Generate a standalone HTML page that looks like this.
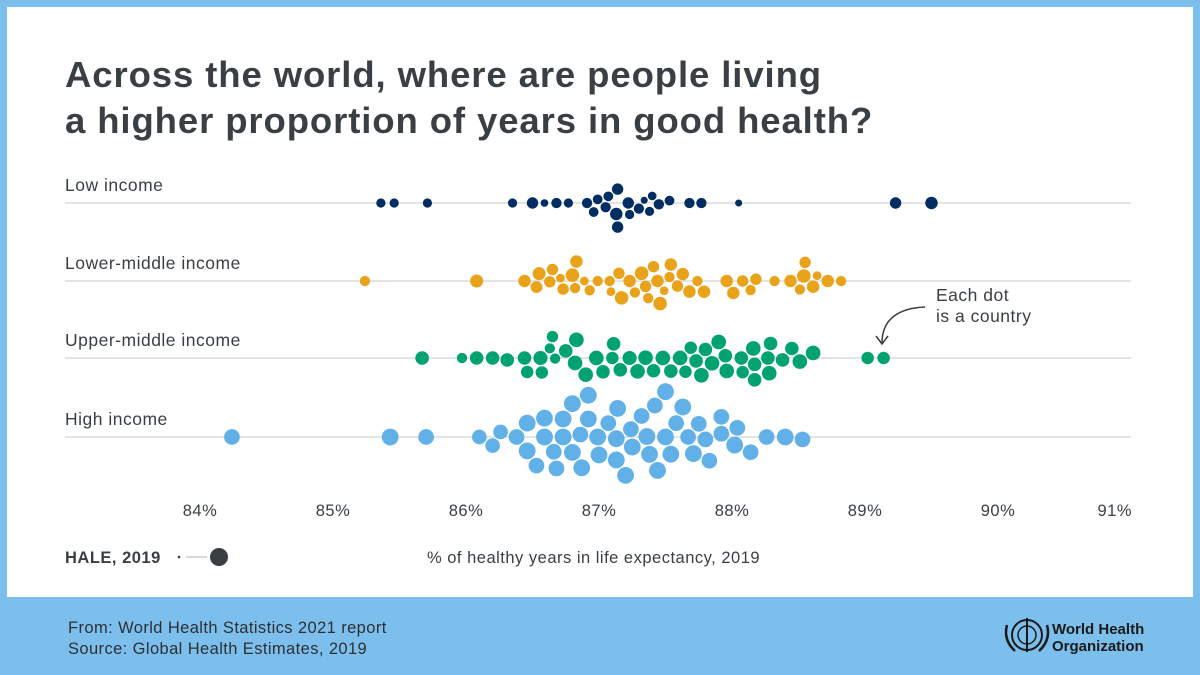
<!DOCTYPE html>
<html><head><meta charset="utf-8">
<style>
body{margin:0;width:1200px;height:675px;background:#7dbfec;font-family:"Liberation Sans","DejaVu Sans",sans-serif;overflow:hidden;position:relative}
#card{position:absolute;left:7px;top:7px;width:1186px;height:590px;background:#fff}
h1{position:absolute;left:65px;top:52px;margin:0;font-size:36.5px;letter-spacing:0.9px;line-height:46px;font-weight:bold;color:#3a3f44}
.foot{position:absolute;left:68px;top:618px;font-size:16.5px;letter-spacing:0.4px;line-height:21px;color:#2b3035}
svg{position:absolute;left:0;top:0}
svg text{letter-spacing:0.5px}
</style></head><body>
<div id="card"></div>
<h1>Across the world, where are people living<br>a higher proportion of years in good health?</h1>
<div class="foot">From: World Health Statistics 2021 report<br>Source: Global Health Estimates, 2019</div>
<svg id="chart" width="1200" height="675"></svg>
<script>
const groups = ["Low income","Lower-middle income","Upper-middle income","High income"];
const colors = ["#002d62","#e9a31b","#00a270","#61b1e8"];
const ticks = [84,85,86,87,88,89,90,91];
const lowVals = [85.36,85.46,85.71,86.35,86.50,86.59,86.68,86.77,86.91,86.96,86.99,87.05,87.07,87.13,87.14,87.14,87.22,87.23,87.30,87.34,87.38,87.40,87.45,87.53,87.68,87.77,88.05,89.23,89.50];
const lowHale = [56,56,56,56,60,53,58,56,58,57,57,58,57,62,60,60,60,56,58,52,56,55,58,57,58,58,52,60,62];
const lmVals = [85.24,86.08,86.44,86.53,86.55,86.63,86.65,86.71,86.73,86.80,86.82,86.83,86.89,86.93,86.99,87.08,87.09,87.15,87.17,87.23,87.27,87.32,87.35,87.37,87.41,87.44,87.46,87.49,87.53,87.54,87.59,87.63,87.68,87.74,87.79,87.96,88.01,88.08,88.14,88.18,88.32,88.44,88.51,88.54,88.55,88.61,88.64,88.72,88.82];
const lmHale = [58,63,62,61,63,60,60,55,60,64,58,62,55,58,58,58,55,60,64,62,58,64,60,58,60,62,64,55,58,62,60,62,62,58,62,62,62,60,58,60,58,62,58,64,60,62,55,62,58];
const umVals = [85.67,85.97,86.08,86.20,86.31,86.44,86.46,86.56,86.57,86.63,86.65,86.67,86.75,86.82,86.83,86.90,86.98,87.03,87.10,87.11,87.16,87.23,87.29,87.35,87.41,87.48,87.54,87.61,87.65,87.69,87.73,87.77,87.80,87.85,87.90,87.95,87.96,88.07,88.08,88.16,88.17,88.17,88.27,88.28,88.29,88.38,88.45,88.51,88.61,89.02,89.14];
const umHale = [64,58,64,64,64,64,62,65,62,58,60,58,64,66,66,66,66,64,62,64,64,65,66,66,64,66,64,66,62,62,64,66,64,66,66,64,66,64,62,66,64,64,64,66,64,64,64,66,66,62,62];
const hiVals = [84.24,85.43,85.70,86.10,86.20,86.26,86.38,86.46,86.46,86.53,86.59,86.59,86.66,86.68,86.73,86.73,86.80,86.80,86.86,86.87,86.92,86.92,86.99,87.00,87.07,87.13,87.13,87.14,87.20,87.24,87.25,87.32,87.36,87.38,87.42,87.44,87.50,87.50,87.54,87.58,87.63,87.67,87.71,87.75,87.80,87.83,87.92,87.92,88.02,88.04,88.14,88.26,88.40,88.53];
const hiHale = [68,70,68,66,66,66,68,70,70,68,70,70,68,68,70,70,70,70,68,70,70,70,70,70,68,70,70,70,70,68,70,68,70,70,68,70,70,70,70,68,70,68,70,68,68,68,68,68,70,68,68,68,70,68];
const seriesVals = [lowVals,lmVals,umVals,hiVals];
const seriesHale = [lowHale,lmHale,umHale,hiHale];
const rowY = [203,281,358,437];

const NS="http://www.w3.org/2000/svg";
const svg=document.getElementById('chart');
function xs(v){return 200+(v-84)*133;}
function rs(h){return 3+(h-50)*0.27;}
function mk(tag,attrs){const e=document.createElementNS(NS,tag);for(const k in attrs)e.setAttribute(k,attrs[k]);svg.appendChild(e);return e;}

groups.forEach((g,gi)=>{
  const y0=rowY[gi];
  const ln=mk('line',{x1:65,x2:1131,y1:y0,y2:y0,stroke:'#dcdcdc','stroke-width':1.5});
  
  
  const t=mk('text',{x:65,y:y0-12,'font-size':17.5,fill:'#3a3f44'});
  t.textContent=g;
  
  
  const vals=seriesVals[gi], hs=seriesHale[gi];
  const placed=[];
  vals.forEach((v,i)=>{
    const x=xs(v), r=rs(hs[i]);
    const cands=[0];
    placed.forEach(p=>{const d=r+p.r+1.2;const dx=x-p.x;if(Math.abs(dx)<d){const dy=Math.sqrt(d*d-dx*dx);cands.push(p.y+dy,p.y-dy);}});
    cands.sort((a,b)=>Math.abs(a)-Math.abs(b));
    let yy=0;
    for(const c of cands){let ok=true;for(const p of placed){const d=r+p.r+1.1;if((x-p.x)**2+(c-p.y)**2<d*d-0.01){ok=false;break;}}if(ok){yy=c;break;}}
    placed.push({x,y:yy,r});
    const c=mk('circle',{cx:x,cy:y0+yy,r:r,fill:colors[gi]});
    
    
  });
});
ticks.forEach(tv=>{
  const t=mk('text',{x:tv===91?1132:xs(tv),y:516,'font-size':16.5,fill:'#3a3f44','text-anchor':tv===91?'end':'middle'});
  t.textContent=tv+'%';
  
  
});
</script>
<svg width="1200" height="675">
<text x="936" y="301" font-size="17.5" fill="#3a3f44">Each dot</text>
<text x="936" y="322" font-size="17.5" fill="#3a3f44">is a country</text>
<path d="M925 307 C900 308 882 318 882 343" fill="none" stroke="#3a3f44" stroke-width="1.5"/>
<path d="M876 336 L882 344 L888 336" fill="none" stroke="#3a3f44" stroke-width="1.5"/>
<text x="65" y="563" font-size="16.5" font-weight="bold" fill="#3a3f44">HALE, 2019</text>
<circle cx="179" cy="557" r="1.3" fill="#3a3f44"/>
<line x1="186" x2="207" y1="557" y2="557" stroke="#ccc" stroke-width="1.5"/>
<circle cx="219" cy="557" r="9" fill="#3a3f44"/>
<text x="427" y="563" font-size="16.5" fill="#3a3f44">% of healthy years in life expectancy, 2019</text>
<g>
<circle cx="1027" cy="635" r="15" fill="none" stroke="#1a1a1a" stroke-width="2"/>
<circle cx="1027" cy="635" r="9" fill="none" stroke="#1a1a1a" stroke-width="1.5"/>
<line x1="1027" y1="618" x2="1027" y2="652" stroke="#1a1a1a" stroke-width="2"/>
<path d="M1007 625 Q1003 640 1015 651 M1047 625 Q1051 640 1039 651" fill="none" stroke="#1a1a1a" stroke-width="2.5"/>
<text x="1052" y="634" font-size="15" font-weight="bold" fill="#1a1a1a" style="letter-spacing:0">World Health</text>
<text x="1052" y="651" font-size="15" font-weight="bold" fill="#1a1a1a" style="letter-spacing:0">Organization</text>
</g>
</svg>
</body></html>
